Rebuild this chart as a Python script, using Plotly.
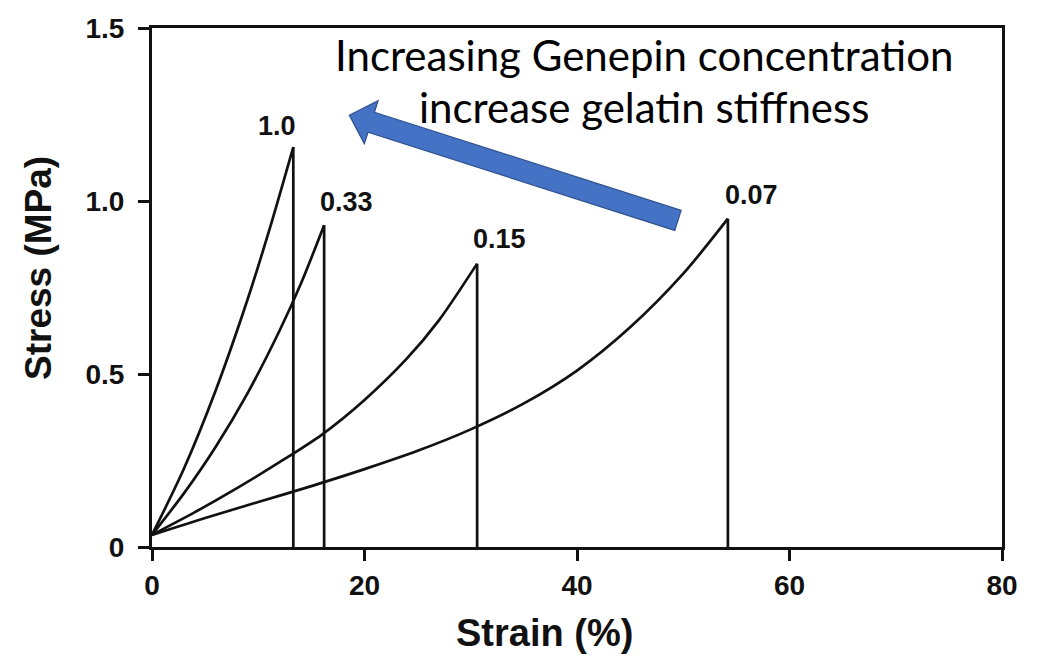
import plotly.graph_objects as go

# ---------------- data ----------------
x_tick_vals = [0, 20, 40, 60, 80]
x_tick_text = ["0", "20", "40", "60", "80"]
y_tick_vals = [0, 0.5, 1.0, 1.5]
y_tick_text = ["0", "0.5", "1.0", "1.5"]

concentrations = ["1.0", "0.33", "0.15", "0.07"]

strain_c100 = [0, 3, 6, 9, 11, 13.3]
stress_c100 = [0.035, 0.226, 0.453, 0.716, 0.912, 1.156]

strain_c033 = [0, 3, 6, 9, 12, 14, 16.2]
stress_c033 = [0.035, 0.155, 0.29, 0.445, 0.625, 0.76, 0.93]

strain_c015 = [0, 4, 8, 12, 16, 20, 24, 27, 30.6]
stress_c015 = [0.035, 0.10, 0.17, 0.245, 0.325, 0.425, 0.545, 0.655, 0.819]

strain_c007 = [0, 5, 10, 15, 20, 25, 30, 35, 40, 45, 50, 54.2]
stress_c007 = [0.035, 0.084, 0.13, 0.176, 0.225, 0.278, 0.34, 0.415, 0.51, 0.635, 0.79, 0.949]

strains = [strain_c100, strain_c033, strain_c015, strain_c007]
stresses = [stress_c100, stress_c033, stress_c015, stress_c007]

annotation_line1 = "Increasing Genepin concentration"
annotation_line2 = "increase gelatin stiffness"
x_title = "Strain (%)"
y_title = "Stress (MPa)"

# ---------------- styles / layout ----------------
W, H = 1032, 648
ML, MR, MT, MB = 144, 38, 20, 109
X_RANGE = [0, 80]
Y_RANGE = [0, 1.5]
label_xshift = [-16, 22, 22, 24]
label_yshift = [4, 6, 8, 7]
BOLD_FONT = "Liberation Sans, Arial, Helvetica, sans-serif"
TEXT_FONT = "Lato, Open Sans, sans-serif"
INK = "#111111"

PW = W - ML - MR
PH = H - MT - MB


def to_px(x, y):
    return (ML + (x - X_RANGE[0]) / (X_RANGE[1] - X_RANGE[0]) * PW,
            MT + (Y_RANGE[1] - y) / (Y_RANGE[1] - Y_RANGE[0]) * PH)


def to_data(px, py):
    return (X_RANGE[0] + (px - ML) / PW * (X_RANGE[1] - X_RANGE[0]),
            Y_RANGE[1] - (py - MT) / PH * (Y_RANGE[1] - Y_RANGE[0]))


def to_paper(px, py):
    return ((px - ML) / PW, (H - MB - py) / PH)


fig = go.Figure()

for name, sx, sy in zip(concentrations, strains, stresses):
    fig.add_trace(go.Scatter(
        x=sx, y=sy, mode="lines", name=name,
        line=dict(color=INK, width=2.7, shape="spline", smoothing=0.8),
        showlegend=False, hoverinfo="skip"))
    fig.add_trace(go.Scatter(
        x=[sx[-1], sx[-1]], y=[sy[-1], 0], mode="lines",
        line=dict(color=INK, width=2.7),
        showlegend=False, hoverinfo="skip"))

# concentration labels at peaks
for name, sx, sy, dx, dy in zip(concentrations, strains, stresses, label_xshift, label_yshift):
    fig.add_annotation(x=sx[-1], y=sy[-1], text=name, showarrow=False,
                       xanchor="center", yanchor="bottom", xshift=dx, yshift=dy,
                       font=dict(family=BOLD_FONT, size=27, color=INK, weight="bold"))

# ---------------- arrow (pixel geometry converted to data coords) ----------------
arrow_tail = (49.5, 0.944)
arrow_tip = (18.57, 1.248)
shaft_half, head_half, head_len = 10.5, 22.5, 23.0

tx, ty = to_px(*arrow_tail)
hx, hy = to_px(*arrow_tip)
L = ((hx - tx) ** 2 + (hy - ty) ** 2) ** 0.5
ux, uy = (hx - tx) / L, (hy - ty) / L
nx, ny = -uy, ux
bx, by = hx - ux * head_len, hy - uy * head_len
pts_px = [
    (tx + nx * shaft_half, ty + ny * shaft_half),
    (bx + nx * shaft_half, by + ny * shaft_half),
    (bx + nx * head_half, by + ny * head_half),
    (hx, hy),
    (bx - nx * head_half, by - ny * head_half),
    (bx - nx * shaft_half, by - ny * shaft_half),
    (tx - nx * shaft_half, ty - ny * shaft_half),
]
pts = [to_data(*p) for p in pts_px]
path = "M " + " L ".join(f"{x:.4f},{y:.4f}" for x, y in pts) + " Z"
fig.add_shape(type="path", path=path, xref="x", yref="y",
              fillcolor="#4472C4", line=dict(color="#2F528F", width=1.2), layer="above")

# ---------------- text annotation ----------------
fig.add_annotation(x=46.3, y=to_data(0, 47)[1], text=annotation_line1, showarrow=False,
                   xanchor="center", yanchor="middle",
                   font=dict(family=TEXT_FONT, size=42, color="#000000"))
fig.add_annotation(x=46.3, y=to_data(0, 99)[1], text=annotation_line2, showarrow=False,
                   xanchor="center", yanchor="middle",
                   font=dict(family=TEXT_FONT, size=42, color="#000000"))

# ---------------- axis titles (placed as in the reference) ----------------
xt = to_paper(536, 625)
fig.add_annotation(xref="paper", yref="paper", x=xt[0], y=xt[1], text=x_title,
                   showarrow=False, xanchor="center", yanchor="middle",
                   font=dict(family=BOLD_FONT, size=38, color=INK, weight="bold"))
yt = to_paper(30, 260)
fig.add_annotation(xref="paper", yref="paper", x=yt[0], y=yt[1], text=y_title,
                   showarrow=False, xanchor="center", yanchor="middle", textangle=-90,
                   font=dict(family=BOLD_FONT, size=37, color=INK, weight="bold"))

axis_common = dict(showline=True, linecolor=INK, linewidth=3, mirror=True,
                   ticks="outside", ticklen=11, tickwidth=3, tickcolor=INK,
                   showgrid=False, zeroline=False,
                   tickfont=dict(family=BOLD_FONT, size=28, color=INK, weight="bold"))

fig.update_xaxes(range=X_RANGE, tickmode="array", tickvals=x_tick_vals, ticktext=x_tick_text,
                 **axis_common)
fig.update_yaxes(range=Y_RANGE, tickmode="array", tickvals=y_tick_vals, ticktext=y_tick_text,
                 ticklabelstandoff=8, **axis_common)

fig.update_layout(width=W, height=H, margin=dict(l=ML, r=MR, t=MT, b=MB, autoexpand=False),
                  plot_bgcolor="white", paper_bgcolor="white", showlegend=False)

fig.write_html("out.html")
